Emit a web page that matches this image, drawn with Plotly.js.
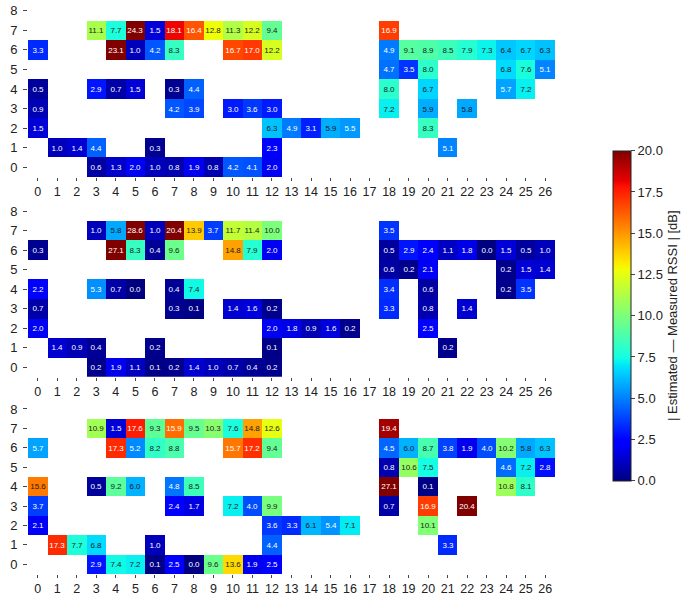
<!DOCTYPE html>
<html>
<head>
<meta charset="utf-8">
<script src="https://cdn.plot.ly/plotly-3.0.1.min.js"></script>
<style>html,body{margin:0;padding:0;background:#fff;}#chart{width:682px;height:596px;}</style>
</head>
<body>
<div id="chart"></div>
<script>
const _ = null;
const xCats = [0,1,2,3,4,5,6,7,8,9,10,11,12,13,14,15,16,17,18,19,20,21,22,23,24,25,26];
const yCats = [0,1,2,3,4,5,6,7,8];

// Panel 1 rows (y = 0..8), columns x = 0..26
const p1_y0 = [_,_,_,0.6,1.3,2.0,1.0,0.8,1.9,0.8,4.2,4.1,2.0,_,_,_,_,_,_,_,_,_,_,_,_,_,_];
const p1_y1 = [_,1.0,1.4,4.4,_,_,0.3,_,_,_,_,_,2.3,_,_,_,_,_,_,_,_,5.1,_,_,_,_,_];
const p1_y2 = [1.5,_,_,_,_,_,_,_,_,_,_,_,6.3,4.9,3.1,5.9,5.5,_,_,_,8.3,_,_,_,_,_,_];
const p1_y3 = [0.9,_,_,_,_,_,_,4.2,3.9,_,3.0,3.6,3.0,_,_,_,_,_,7.2,_,5.9,_,5.8,_,_,_,_];
const p1_y4 = [0.5,_,_,2.9,0.7,1.5,_,0.3,4.4,_,_,_,_,_,_,_,_,_,8.0,_,6.7,_,_,_,5.7,7.2,_];
const p1_y5 = [_,_,_,_,_,_,_,_,_,_,_,_,_,_,_,_,_,_,4.7,3.5,8.0,_,_,_,6.8,7.6,5.1];
const p1_y6 = [3.3,_,_,_,23.1,1.0,4.2,8.3,_,_,16.7,17.0,12.2,_,_,_,_,_,4.9,9.1,8.9,8.5,7.9,7.3,6.4,6.7,6.3];
const p1_y7 = [_,_,_,11.1,7.7,24.3,1.5,18.1,16.4,12.8,11.3,12.2,9.4,_,_,_,_,_,16.9,_,_,_,_,_,_,_,_];
const p1_y8 = [_,_,_,_,_,_,_,_,_,_,_,_,_,_,_,_,_,_,_,_,_,_,_,_,_,_,_];

// Panel 2
const p2_y0 = [_,_,_,0.2,1.9,1.1,0.1,0.2,1.4,1.0,0.7,0.4,0.2,_,_,_,_,_,_,_,_,_,_,_,_,_,_];
const p2_y1 = [_,1.4,0.9,0.4,_,_,0.2,_,_,_,_,_,0.1,_,_,_,_,_,_,_,_,0.2,_,_,_,_,_];
const p2_y2 = [2.0,_,_,_,_,_,_,_,_,_,_,_,2.0,1.8,0.9,1.6,0.2,_,_,_,2.5,_,_,_,_,_,_];
const p2_y3 = [0.7,_,_,_,_,_,_,0.3,0.1,_,1.4,1.6,0.2,_,_,_,_,_,3.3,_,0.8,_,1.4,_,_,_,_];
const p2_y4 = [2.2,_,_,5.3,0.7,0.0,_,0.4,7.4,_,_,_,_,_,_,_,_,_,3.4,_,0.6,_,_,_,0.2,3.5,_];
const p2_y5 = [_,_,_,_,_,_,_,_,_,_,_,_,_,_,_,_,_,_,0.6,0.2,2.1,_,_,_,0.2,1.5,1.4];
const p2_y6 = [0.3,_,_,_,27.1,8.3,0.4,9.6,_,_,14.8,7.9,2.0,_,_,_,_,_,0.5,2.9,2.4,1.1,1.8,0.0,1.5,0.5,1.0];
const p2_y7 = [_,_,_,1.0,5.8,28.6,1.0,20.4,13.9,3.7,11.7,11.4,10.0,_,_,_,_,_,3.5,_,_,_,_,_,_,_,_];
const p2_y8 = [_,_,_,_,_,_,_,_,_,_,_,_,_,_,_,_,_,_,_,_,_,_,_,_,_,_,_];

// Panel 3
const p3_y0 = [_,_,_,2.9,7.4,7.2,0.1,2.5,0.0,9.6,13.6,1.9,2.5,_,_,_,_,_,_,_,_,_,_,_,_,_,_];
const p3_y1 = [_,17.3,7.7,6.8,_,_,1.0,_,_,_,_,_,4.4,_,_,_,_,_,_,_,_,3.3,_,_,_,_,_];
const p3_y2 = [2.1,_,_,_,_,_,_,_,_,_,_,_,3.6,3.3,6.1,5.4,7.1,_,_,_,10.1,_,_,_,_,_,_];
const p3_y3 = [3.7,_,_,_,_,_,_,2.4,1.7,_,7.2,4.0,9.9,_,_,_,_,_,0.7,_,16.9,_,20.4,_,_,_,_];
const p3_y4 = [15.6,_,_,0.5,9.2,6.0,_,4.8,8.5,_,_,_,_,_,_,_,_,_,27.1,_,0.1,_,_,_,10.8,8.1,_];
const p3_y5 = [_,_,_,_,_,_,_,_,_,_,_,_,_,_,_,_,_,_,0.8,10.6,7.5,_,_,_,4.6,7.2,2.8];
const p3_y6 = [5.7,_,_,_,17.3,5.2,8.2,8.8,_,_,15.7,17.2,9.4,_,_,_,_,_,4.5,6.0,8.7,3.8,1.9,4.0,10.2,5.8,6.3];
const p3_y7 = [_,_,_,10.9,1.5,17.6,9.3,15.9,9.5,10.3,7.6,14.8,12.6,_,_,_,_,_,19.4,_,_,_,_,_,_,_,_];
const p3_y8 = [_,_,_,_,_,_,_,_,_,_,_,_,_,_,_,_,_,_,_,_,_,_,_,_,_,_,_];

const cbTickVals = [0,2.5,5,7.5,10,12.5,15,17.5,20];
const cbTitle = '| Estimated — Measured RSSI | [dB]';

const z1 = [p1_y0,p1_y1,p1_y2,p1_y3,p1_y4,p1_y5,p1_y6,p1_y7,p1_y8];
const z2 = [p2_y0,p2_y1,p2_y2,p2_y3,p2_y4,p2_y5,p2_y6,p2_y7,p2_y8];
const z3 = [p3_y0,p3_y1,p3_y2,p3_y3,p3_y4,p3_y5,p3_y6,p3_y7,p3_y8];

const ZMIN = 0, ZMAX = 20;
// matplotlib-like jet
const jetStops = [
  [0,[0,0,128]],[0.11,[0,0,255]],[0.125,[0,0,255]],
  [0.34,[0,219,255]],[0.35,[0,230,247]],[0.375,[21,255,226]],
  [0.64,[239,255,8]],[0.65,[247,245,0]],[0.66,[255,236,0]],
  [0.89,[255,19,0]],[0.91,[232,0,0]],[1,[128,0,0]]
];
const jet = jetStops.map(s => [s[0], 'rgb(' + s[1].join(',') + ')']);

function colorAt(v){
  let t = Math.max(0, Math.min(1, (v - ZMIN) / (ZMAX - ZMIN)));
  for (let i = 1; i < jetStops.length; i++){
    const a = jetStops[i-1], b = jetStops[i];
    if (t <= b[0]){
      const f = (t - a[0]) / (b[0] - a[0] || 1);
      return a[1].map((c, k) => c + f * (b[1][k] - c));
    }
  }
  return jetStops[jetStops.length-1][1];
}
function relLum(rgb){
  const lin = rgb.map(c => { c /= 255; return c <= 0.04045 ? c/12.92 : Math.pow((c+0.055)/1.055, 2.4); });
  return 0.2126*lin[0] + 0.7152*lin[1] + 0.0722*lin[2];
}
function isDarkCell(v){ return relLum(colorAt(v)) < 0.35; }

const FONT = 'Liberation Sans, Arial, Helvetica, sans-serif';

function split(z, wantDark){
  return z.map(row => row.map(v => (v === null ? null : (isDarkCell(v) === wantDark ? v : null))));
}
function hm(z, xa, ya, dark){
  return {
    type:'heatmap', z:split(z, dark), x:xCats, y:yCats, xaxis:xa, yaxis:ya,
    coloraxis:'coloraxis',
    texttemplate:'%{z:.1f}', textfont:{size:8, family:FONT, color: dark ? '#ffffff' : '#1a1a1a'},
    hoverongaps:false
  };
}

const data = [
  hm(z1,'x','y',true), hm(z1,'x','y',false),
  hm(z2,'x2','y2',true), hm(z2,'x2','y2',false),
  hm(z3,'x3','y3',true), hm(z3,'x3','y3',false)
];

function xax(anchor){
  return {anchor:anchor, range:[-0.5,26.5], tickmode:'array', tickvals:xCats,
    ticks:'outside', ticklen:3, tickcolor:'#444', showgrid:false, zeroline:false,
    ticklabelstandoff:0,
    showline:false, tickfont:{size:12.5, color:'#222', family:FONT}, fixedrange:true};
}
function yax(anchor, dom){
  return {anchor:anchor, domain:dom, range:[-0.5,8.5], tickmode:'array', tickvals:yCats,
    ticks:'outside', ticklen:4, tickcolor:'#444', showgrid:false, zeroline:false,
    ticklabelstandoff:3,
    showline:false, tickfont:{size:13, color:'#222', family:FONT}, fixedrange:true};
}

const layout = {
  width:682, height:596,
  margin:{l:28, r:127, t:1, b:22},
  paper_bgcolor:'#fff', plot_bgcolor:'#fff',
  font:{family:FONT, color:'#222'},
  showlegend:false,
  xaxis:xax('y'), xaxis2:xax('y2'), xaxis3:xax('y3'),
  yaxis:yax('x',[0.6928,1.0]),
  yaxis2:yax('x2',[0.3442,0.6505]),
  yaxis3:yax('x3',[0,0.305]),
  coloraxis:{
    cmin:ZMIN, cmax:ZMAX, colorscale:jet,
    colorbar:{
      x:(613-28)/527, xanchor:'left', xpad:0,
      y:(574-315.7)/573, yanchor:'middle', ypad:0,
      lenmode:'pixels', len:330, thickness:18,
      outlinewidth:1, outlinecolor:'#222',
      tickmode:'array', tickvals:cbTickVals, tickformat:'.1f',
      ticks:'outside', ticklen:4, tickcolor:'#444',
      tickfont:{size:13, color:'#222', family:FONT},
      title:{text:cbTitle, side:'right', font:{size:13, color:'#222', family:FONT}}
    }
  }
};

Plotly.newPlot('chart', data, layout, {displayModeBar:false, staticPlot:true});
</script>
</body>
</html>
